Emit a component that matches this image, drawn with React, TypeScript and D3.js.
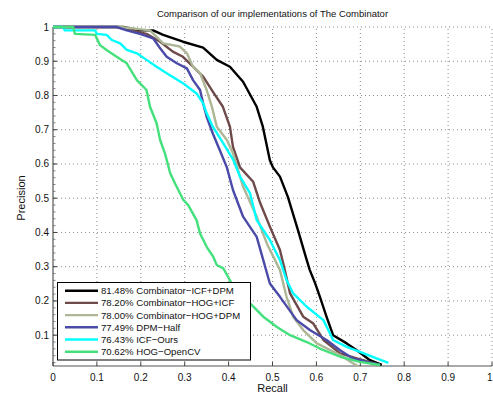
import React, { useEffect, useRef } from "react";
import * as d3 from "d3";

// Precision / recall curves
const seriesNames = [
  "81.48% Combinator\u2212ICF+DPM",
  "78.20% Combinator\u2212HOG+ICF",
  "78.00% Combinator\u2212HOG+DPM",
  "77.49% DPM\u2212Half",
  "76.43% ICF\u2212Ours",
  "70.62% HOG\u2212OpenCV",
];

const icfDpmRecall = [0, 0.16, 0.198, 0.228, 0.251, 0.296, 0.342, 0.373, 0.403, 0.433, 0.464, 0.478, 0.494, 0.501, 0.517, 0.535, 0.558, 0.578, 0.585, 0.597, 0.608, 0.623, 0.638, 0.669, 0.692, 0.722, 0.749];
const icfDpmPrecision = [1, 1, 0.99, 0.99, 0.977, 0.957, 0.94, 0.904, 0.884, 0.84, 0.767, 0.709, 0.611, 0.59, 0.563, 0.504, 0.407, 0.319, 0.29, 0.252, 0.212, 0.154, 0.1, 0.076, 0.056, 0.027, 0.013];

const hogIcfRecall = [0, 0.145, 0.213, 0.244, 0.273, 0.296, 0.319, 0.342, 0.364, 0.387, 0.403, 0.41, 0.426, 0.456, 0.472, 0.494, 0.517, 0.528, 0.54, 0.57, 0.593, 0.616, 0.654, 0.692, 0.722, 0.745];
const hogIcfPrecision = [1, 1, 0.98, 0.957, 0.928, 0.913, 0.884, 0.855, 0.811, 0.767, 0.709, 0.65, 0.59, 0.548, 0.486, 0.417, 0.349, 0.29, 0.222, 0.154, 0.134, 0.086, 0.047, 0.032, 0.021, 0.013];

const hogDpmRecall = [0, 0.153, 0.221, 0.251, 0.289, 0.305, 0.319, 0.335, 0.35, 0.362, 0.373, 0.396, 0.41, 0.433, 0.464, 0.487, 0.517, 0.532, 0.547, 0.57, 0.601, 0.654, 0.683, 0.695];
const hogDpmPrecision = [1, 1, 0.99, 0.952, 0.943, 0.923, 0.884, 0.865, 0.816, 0.767, 0.709, 0.67, 0.631, 0.534, 0.446, 0.368, 0.29, 0.212, 0.154, 0.115, 0.076, 0.042, 0.018, 0.01];

const dpmHalfRecall = [0, 0.145, 0.168, 0.198, 0.228, 0.244, 0.259, 0.282, 0.305, 0.319, 0.335, 0.342, 0.35, 0.364, 0.38, 0.396, 0.41, 0.433, 0.464, 0.479, 0.494, 0.517, 0.555, 0.585, 0.623, 0.654, 0.683, 0.715, 0.745];
const dpmHalfPrecision = [1, 1, 0.99, 0.98, 0.967, 0.938, 0.913, 0.894, 0.879, 0.845, 0.816, 0.777, 0.738, 0.689, 0.64, 0.59, 0.524, 0.446, 0.387, 0.319, 0.251, 0.212, 0.144, 0.115, 0.086, 0.056, 0.032, 0.022, 0.013];

const icfOursRecall = [0, 0.023, 0.027, 0.096, 0.1, 0.122, 0.134, 0.153, 0.168, 0.191, 0.213, 0.236, 0.259, 0.296, 0.327, 0.342, 0.35, 0.364, 0.388, 0.411, 0.426, 0.449, 0.464, 0.494, 0.517, 0.532, 0.547, 0.578, 0.616, 0.631, 0.638, 0.669, 0.699, 0.737, 0.764];
const icfOursPrecision = [1, 1, 0.99, 0.99, 0.98, 0.977, 0.962, 0.952, 0.933, 0.923, 0.904, 0.884, 0.865, 0.836, 0.806, 0.777, 0.748, 0.709, 0.66, 0.611, 0.563, 0.514, 0.436, 0.378, 0.319, 0.261, 0.222, 0.183, 0.144, 0.105, 0.086, 0.066, 0.051, 0.032, 0.019];

const hogCvRecall = [0, 0.046, 0.05, 0.096, 0.107, 0.122, 0.145, 0.168, 0.191, 0.213, 0.221, 0.236, 0.244, 0.255, 0.267, 0.278, 0.297, 0.308, 0.327, 0.335, 0.35, 0.365, 0.373, 0.388, 0.399, 0.415, 0.453, 0.479, 0.51, 0.54, 0.578, 0.608, 0.654, 0.699, 0.745];
const hogCvPrecision = [1, 1, 0.98, 0.977, 0.947, 0.933, 0.913, 0.894, 0.845, 0.816, 0.767, 0.719, 0.67, 0.631, 0.573, 0.543, 0.495, 0.48, 0.436, 0.397, 0.358, 0.329, 0.305, 0.295, 0.27, 0.232, 0.188, 0.154, 0.124, 0.1, 0.08, 0.061, 0.037, 0.022, 0.013];

const seriesRecall = [icfDpmRecall, hogIcfRecall, hogDpmRecall, dpmHalfRecall, icfOursRecall, hogCvRecall];
const seriesPrecision = [icfDpmPrecision, hogIcfPrecision, hogDpmPrecision, dpmHalfPrecision, icfOursPrecision, hogCvPrecision];
const seriesColors = ["#000000", "#6e4a4a", "#adb795", "#4a4aa8", "#00ffff", "#44e07c"];

const xTicks = [0, 0.1, 0.2, 0.3, 0.4, 0.5, 0.6, 0.7, 0.8, 0.9, 1];
const yTicks = [0.1, 0.2, 0.3, 0.4, 0.5, 0.6, 0.7, 0.8, 0.9, 1];

const App = () => {
  const ref = useRef<SVGSVGElement>(null);

  useEffect(() => {
    const width = 493;
    const height = 398;
    const svg = d3.select(ref.current);
    svg.selectAll("*").remove();
    svg.attr("width", width).attr("height", height);

    const x = d3.scaleLinear().domain([0, 1]).range([53, 492]);
    const y = d3.scaleLinear().domain([0.01, 1]).range([366, 27]);
    const font = "'Liberation Sans', Arial, sans-serif";

    // dotted grid
    const grid = svg.append("g").attr("stroke", "#8a8a8a").attr("stroke-width", 1).attr("stroke-dasharray", "1 3");
    xTicks.slice(1).forEach(t => {
      grid.append("line").attr("x1", x(t)).attr("x2", x(t)).attr("y1", y(0.01)).attr("y2", y(1));
    });
    yTicks.forEach(t => {
      grid.append("line").attr("x1", x(0)).attr("x2", x(1)).attr("y1", y(t)).attr("y2", y(t));
    });

    // axis lines
    svg.append("line").attr("x1", x(0)).attr("x2", x(1)).attr("y1", y(0.01)).attr("y2", y(0.01))
      .attr("stroke", "#555").attr("stroke-width", 1.2);
    svg.append("line").attr("x1", x(0)).attr("x2", x(0)).attr("y1", y(0.01)).attr("y2", y(1))
      .attr("stroke", "#555").attr("stroke-width", 1.2);

    // minor ticks on the y axis
    d3.range(0.02, 1.0001, 0.02).forEach(t => {
      svg.append("line").attr("x1", x(0)).attr("x2", x(0) + 2.5).attr("y1", y(t)).attr("y2", y(t))
        .attr("stroke", "#666").attr("stroke-width", 0.8);
    });
    yTicks.forEach(t => {
      svg.append("line").attr("x1", x(0)).attr("x2", x(0) + 4).attr("y1", y(t)).attr("y2", y(t))
        .attr("stroke", "#444").attr("stroke-width", 1);
    });
    xTicks.forEach(t => {
      svg.append("line").attr("x1", x(t)).attr("x2", x(t)).attr("y1", y(0.01)).attr("y2", y(0.01) - 4)
        .attr("stroke", "#444").attr("stroke-width", 1);
    });

    // tick labels (last one kept inside the page edge)
    svg.append("g").selectAll("text").data(xTicks).enter().append("text")
      .attr("x", d => (d === 1 ? 492.5 : x(d))).attr("y", 381)
      .attr("text-anchor", d => (d === 1 ? "end" : "middle"))
      .style("font-family", font).style("font-size", "10px").attr("fill", "#111")
      .text(d => String(d));
    svg.append("g").selectAll("text").data(yTicks).enter().append("text")
      .attr("x", 49).attr("y", d => y(d) + 3.5)
      .attr("text-anchor", "end")
      .style("font-family", font).style("font-size", "10px").attr("fill", "#111")
      .text(d => String(d));

    // title and axis labels
    svg.append("text").attr("x", 272.5).attr("y", 17).attr("text-anchor", "middle")
      .style("font-family", font).style("font-size", "9.5px").attr("fill", "#111")
      .text("Comparison of our implementations of The Combinator");
    svg.append("text").attr("x", 272.5).attr("y", 392).attr("text-anchor", "middle")
      .style("font-family", font).style("font-size", "11px").attr("fill", "#111")
      .text("Recall");
    svg.append("text").attr("transform", "translate(25,198) rotate(-90)").attr("text-anchor", "middle")
      .style("font-family", font).style("font-size", "11px").attr("fill", "#111")
      .text("Precision");

    // curves
    const line = d3.line<[number, number]>()
      .x(d => x(d[0]))
      .y(d => y(d[1]));
    seriesRecall.forEach((rec, i) => {
      const pts = rec.map((r, j) => [r, seriesPrecision[i][j]] as [number, number]);
      svg.append("path").datum(pts).attr("d", line)
        .attr("fill", "none").attr("stroke", seriesColors[i])
        .attr("stroke-width", 2.4).attr("stroke-linejoin", "round");
    });

    // legend
    const lg = svg.append("g");
    lg.append("rect").attr("x", 57.5).attr("y", 282.5).attr("width", 193).attr("height", 77.5)
      .attr("fill", "#fff").attr("stroke", "#000").attr("stroke-width", 1);
    seriesNames.forEach((name, i) => {
      const ly = 290.7 + i * 12.2;
      lg.append("line").attr("x1", 65).attr("x2", 98).attr("y1", ly).attr("y2", ly)
        .attr("stroke", seriesColors[i]).attr("stroke-width", 2.4);
      lg.append("text").attr("x", 101).attr("y", ly + 3.5)
        .style("font-family", font).style("font-size", "9.6px").attr("fill", "#111")
        .text(name);
    });
  }, []);

  return (
    <div style={{ position: "absolute", left: 0, top: 0 }}>
      <svg ref={ref}></svg>
    </div>
  );
};

export default App;
